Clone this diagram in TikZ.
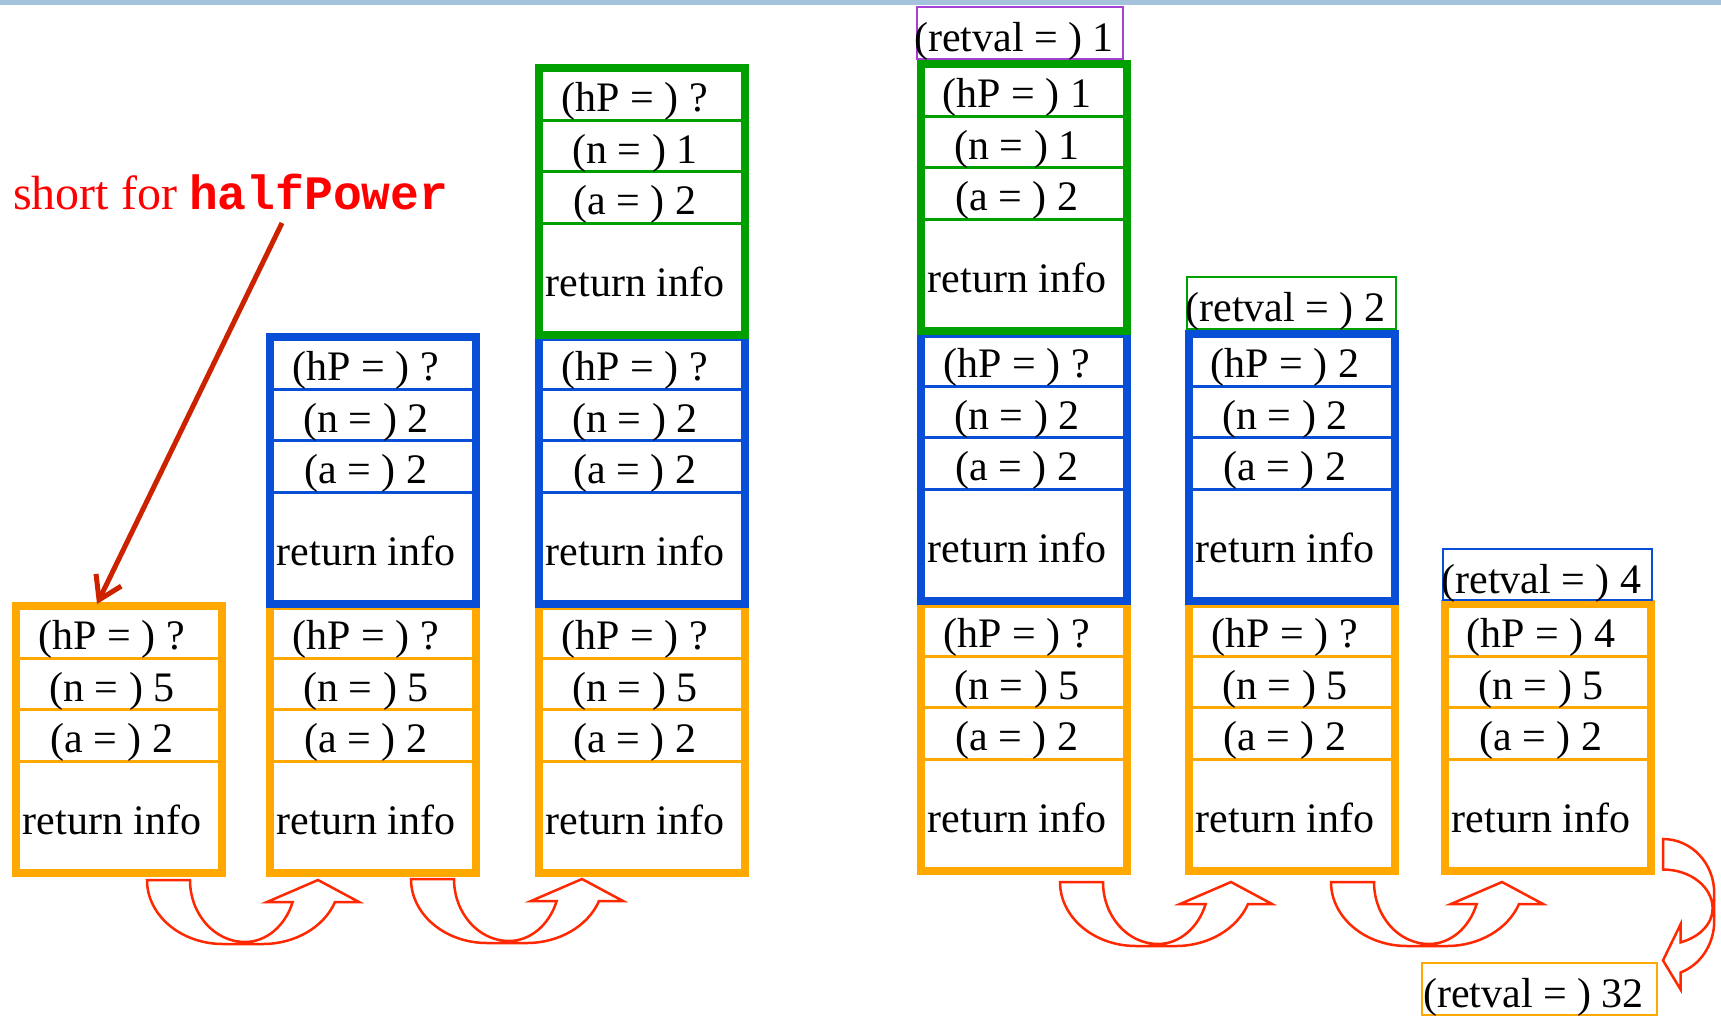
\documentclass[tikz,border=0pt]{standalone}
\usepackage{fontspec}
\setmainfont{Liberation Serif}
\newfontfamily\monob{Liberation Mono}
\usetikzlibrary{arrows.meta}
\definecolor{frOrange}{RGB}{255,168,0}
\definecolor{frBlue}{RGB}{8,78,214}
\definecolor{frGreen}{RGB}{0,160,0}
\definecolor{frPurple}{RGB}{164,64,212}
\definecolor{arRed}{RGB}{255,40,0}
\definecolor{noteRed}{RGB}{204,34,0}
\definecolor{topBlue}{RGB}{165,194,220}
\tikzset{
  framebox/.style={line width=8pt, outer sep=0pt, inner sep=0pt, minimum width=206pt, minimum height=267pt, anchor=north west},
  sepline/.style={line width=3pt},
  celltext/.style={anchor=base, inner sep=0pt, font={\fontsize{42}{48}\selectfont}},
  rvline/.style={line width=2.5pt},
  curvearrow/.style={draw=arRed, line width=2.5pt, line join=miter},
  notetext/.style={anchor=base west, inner sep=0pt, text=red, font={\fontsize{48}{56}\selectfont}},
  noteline/.style={draw=noteRed, line width=5pt, -{Straight Barb[length=22pt,width=28pt]}},
}
\newcommand\stkframe[6]{%
  \node[framebox, draw=#4] (#1) at (#2+4,#3+4) {};
  \foreach \yy in {56,107,159} \draw[sepline, #4] (#2+8,#3+\yy) -- (#2+206,#3+\yy);
  \node[celltext] (#1-hp) at (#2+100,#3+47) {(hP = ) #5};
  \node[celltext] (#1-n) at (#2+100,#3+99) {(n = ) #6};
  \node[celltext] (#1-a) at (#2+100,#3+150) {(a = ) 2};
  \node[celltext] (#1-ri) at (#2+100,#3+232) {return info};
}
\newcommand\retvalbox[7]{%
  \draw[rvline, #6] (#2,#3) rectangle (#4,#5);
  \node[celltext] (#1) at ({(#2+#4)/2-6},#3+44) {(retval = ) #7};
}
\newcommand\cuparrow[2]{%
  \draw[curvearrow, shift={(#1,#2)}] (0,0) -- (43,0)
    arc[start angle=180, end angle=90, x radius=55, y radius=62]
    arc[start angle=90, end angle=20.8, x radius=51, y radius=62]
    -- (120,22) -- (171,0) -- (212,22) -- (188,22)
    arc[start angle=20.1, end angle=90, x radius=77, y radius=64]
    -- (76,64)
    arc[start angle=90, end angle=180, x radius=76, y radius=64] -- cycle;
}
\begin{document}
\begin{tikzpicture}[x=1pt, y=-1pt]
\useasboundingbox (0,0) rectangle (1721,1020);
\fill[white] (0,0) rectangle (1721,1020);
\fill[topBlue] (0,0) rectangle (1721,4.5);

% stack 1
\stkframe{sA}{12}{602}{frOrange}{?}{5}
% stack 2
\stkframe{sBo}{266}{602}{frOrange}{?}{5}
\stkframe{sBb}{266}{333}{frBlue}{?}{2}
% stack 3
\stkframe{sCo}{535}{602}{frOrange}{?}{5}
\stkframe{sCb}{535}{333}{frBlue}{?}{2}
\stkframe{sCg}{535}{64}{frGreen}{?}{1}
% stack 4
\stkframe{sDo}{917}{600}{frOrange}{?}{5}
\stkframe{sDb}{917}{330}{frBlue}{?}{2}
\stkframe{sDg}{917}{60}{frGreen}{1}{1}
\retvalbox{rvD}{917}{7}{1123}{59}{frPurple}{1}
% stack 5
\stkframe{sEo}{1185}{600}{frOrange}{?}{5}
\stkframe{sEb}{1185}{330}{frBlue}{2}{2}
\retvalbox{rvE}{1187}{277}{1396}{329}{frGreen}{2}
% stack 6
\stkframe{sFo}{1441}{600}{frOrange}{4}{5}
\retvalbox{rvF}{1443}{549}{1652}{600}{frBlue}{4}
% final result
\retvalbox{rvG}{1422}{963}{1657}{1015}{frOrange}{32}

% note
\node[notetext] (note) at (13,209) {short for {\monob\bfseries halfPower}};
\coordinate (noteFoot) at (282,223);
\coordinate (sAtip) at (97,604);
\draw[noteline] (noteFoot) -- (sAtip);

% curved arrows
\cuparrow{147}{880}
\cuparrow{411}{879}
\cuparrow{1060}{882}
\cuparrow{1331}{882}
\draw[curvearrow, shift={(1663,839)}] (0,0) -- (0,30.5)
  arc[start angle=-90, end angle=0, x radius=49.6, y radius=39]
  arc[start angle=0, end angle=69.2, x radius=49.6, y radius=36.2]
  -- (17.6,85.2) -- (0,121.4) -- (17.6,150.5) -- (17.6,133.5)
  arc[start angle=69.9, end angle=0, x radius=51.2, y radius=54.7]
  -- (51.2,54)
  arc[start angle=0, end angle=-90, x radius=51.2, y radius=54] -- cycle;
\end{tikzpicture}
\end{document}
